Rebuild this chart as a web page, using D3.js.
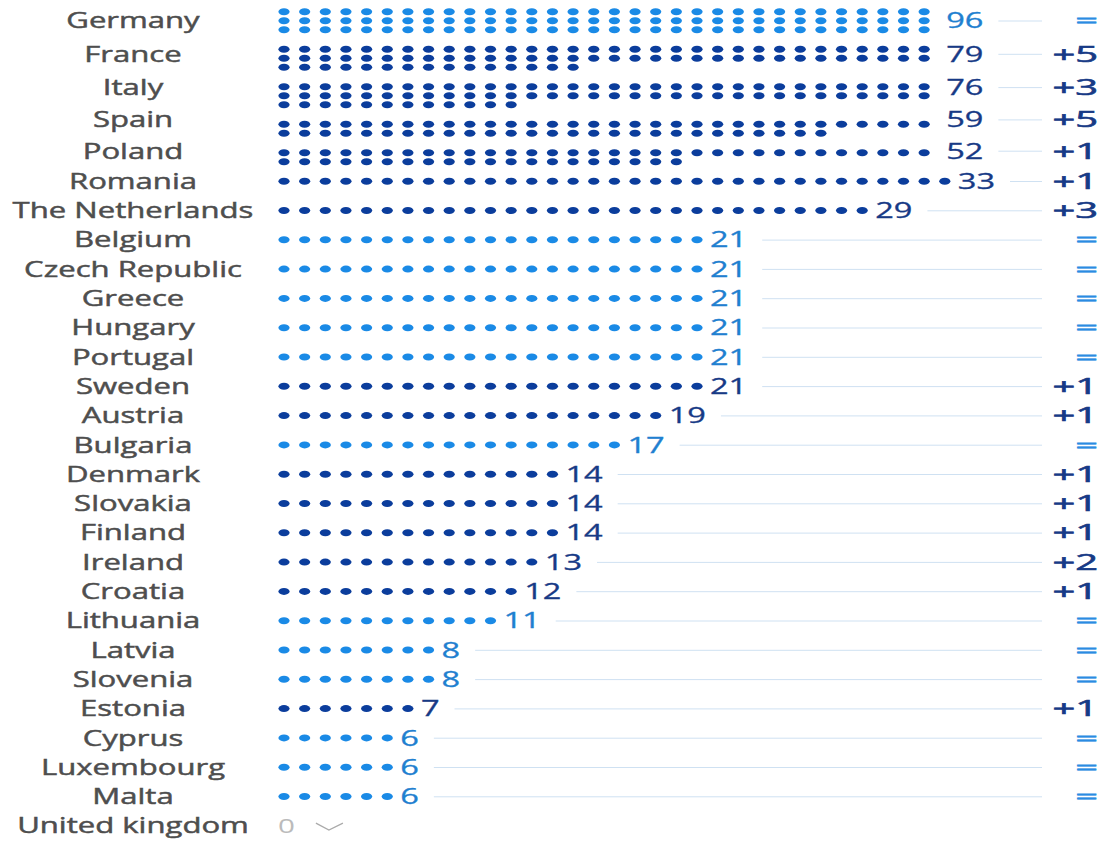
<!DOCTYPE html>
<html>
<head>
<meta charset="utf-8">
<script src="https://cdn.jsdelivr.net/npm/d3@7"></script>
<style>
  html, body { margin: 0; padding: 0; background: #ffffff; }
  svg { display: block; }
  text { font-family: "Open Sans", "Noto Sans", sans-serif; }
</style>
</head>
<body>
<svg id="chart" width="1119" height="841"></svg>
<script>
// ---- data ----
const countries = ["Germany","France","Italy","Spain","Poland","Romania","The Netherlands",
  "Belgium","Czech Republic","Greece","Hungary","Portugal","Sweden","Austria","Bulgaria",
  "Denmark","Slovakia","Finland","Ireland","Croatia","Lithuania","Latvia","Slovenia",
  "Estonia","Cyprus","Luxembourg","Malta","United kingdom"];
const seats   = [96,79,76,59,52,33,29,21,21,21,21,21,21,19,17,14,14,14,13,12,11,8,8,7,6,6,6,0];
const changes = [0,5,3,5,1,1,3,0,0,0,0,0,1,1,0,1,1,1,2,1,0,0,0,1,0,0,0,null];

// ---- style ----
const sx = 1.48;                 // horizontal stretch of text
const colLight = "#1a8ae6", colDark = "#0b3d9c";
const txtLight = "#1f80d0", txtDark = "#173a86";
const labelGray = "#4e4e4e", lineCol = "#cfe1f2";
const maxCols = 32, singleRowMax = 33;

const svg = d3.select("#chart");

const nRows = n => n <= singleRowMax ? 1 : Math.ceil(n / maxCols);
const rows = seats.map(nRows);

// dot column scale
const x = d3.scaleLinear().domain([0, 31]).range([284, 284 + 31 * 20.65]);
const rowStep = 9;

// vertical layout
const dotTop = [], labY = [];
let yd = 11.7, yl = 21;
rows.forEach((r, i) => {
  dotTop.push(yd); labY.push(yl);
  if (i < rows.length - 1) {
    const rn = rows[i + 1];
    yd += (r - 1) * rowStep + ((r > 1 || rn > 1) ? 19.5 : 29.3);
    yl += 29.3 + (r - 1 + rn - 1) * 1;
  }
});

function stretchedText(g, x0, y0, str, size, fill, anchor, scaleX, sw) {
  return g.append("text")
    .attr("transform", `translate(${x0},${y0}) scale(${scaleX || sx},1)`)
    .attr("dy", "0.35em")
    .attr("font-size", size)
    .attr("fill", fill)
    .attr("stroke", fill)
    .attr("stroke-width", sw === undefined ? 0.45 : sw)
    .attr("text-anchor", anchor || "start")
    .text(str);
}

countries.forEach((c, i) => {
  const g = svg.append("g").attr("class", "row");
  const n = seats[i];
  const ch = changes[i];
  const changed = ch !== null && ch > 0;
  const dotCol = changed ? colDark : colLight;
  const txtCol = changed ? txtDark : txtLight;

  // country label
  stretchedText(g, 133, labY[i], c, 21, labelGray, "middle");

  if (n === 0) {
    const z = stretchedText(g, 278, labY[i], String(n), 20, "#bbbbbb", "start", sx, 0);
    const w = z.node().getComputedTextLength() * sx;
    const cx0 = 278 + w + 21;
    g.append("path")
      .attr("d", `M${cx0},${labY[i] - 3} L${cx0 + 13},${labY[i] + 4} L${cx0 + 27},${labY[i] - 3}`)
      .attr("fill", "none").attr("stroke", "#aaaaaa").attr("stroke-width", 1.3);
    return;
  }

  const r = rows[i];
  const cols = r === 1 ? n : maxCols;
  const pts = d3.range(n).map(k => ({ c: k % cols, r: Math.floor(k / cols) }));
  g.selectAll("ellipse").data(pts).join("ellipse")
    .attr("cx", d => x(d.c))
    .attr("cy", d => dotTop[i] + d.r * rowStep)
    .attr("rx", 5.6).attr("ry", 3.5)
    .attr("fill", dotCol);

  const lastCol = r === 1 ? n - 1 : maxCols - 1;
  const vx = x(lastCol) + (r === 1 ? 13 : 22);
  const v = stretchedText(g, vx, labY[i], String(n), 21, txtCol, "start", 1.55, 0.3);
  const vw = v.node().getComputedTextLength() * 1.55;

  g.append("line")
    .attr("x1", vx + vw + 15).attr("x2", 1042)
    .attr("y1", labY[i]).attr("y2", labY[i])
    .attr("stroke", lineCol).attr("stroke-width", 1);

  stretchedText(g, 1098, labY[i], ch === 0 ? "=" : "+" + ch, 21,
    ch === 0 ? "#2a8be2" : txtDark, "end", 1.9, 0.6);
});
</script>
</body>
</html>
